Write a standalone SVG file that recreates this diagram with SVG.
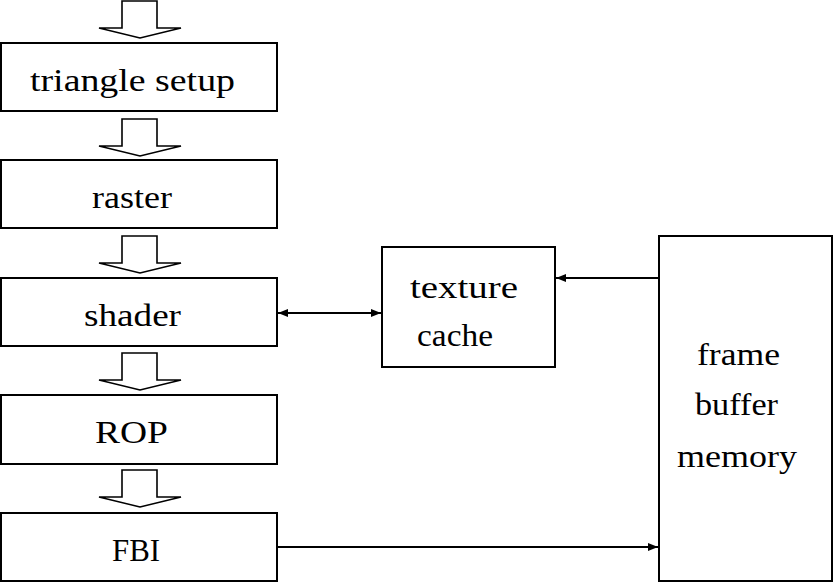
<svg xmlns="http://www.w3.org/2000/svg" width="833" height="583" viewBox="0 0 833 583">
<style>
.box{fill:#fff;stroke:#000;stroke-width:2}
.hollow{fill:#fff;stroke:#000;stroke-width:1.6;stroke-linejoin:miter}
.t{font-family:'Liberation Serif','Times New Roman',serif;font-size:31px;fill:#000}
.c{stroke:#000;stroke-width:2;fill:none}
</style>
<defs>
<marker id="ah" viewBox="0 0 10 8" refX="10" refY="4" markerWidth="10" markerHeight="8" markerUnits="userSpaceOnUse" orient="auto-start-reverse">
<path d="M0,0 L10,4 L0,8 Z" fill="#000"/>
</marker>
</defs>
<rect width="833" height="583" fill="#fff"/>
<g id="flow-arrows">
<path class="hollow" d="M122,1 H157 V28 H181 L140,38 L99,28 H122 Z"/>
<path class="hollow" d="M122,119 H157 V146 H181 L140,156 L99,146 H122 Z"/>
<path class="hollow" d="M122,236 H157 V263 H181 L140,273 L99,263 H122 Z"/>
<path class="hollow" d="M122,353 H157 V380 H181 L140,390 L99,380 H122 Z"/>
<path class="hollow" d="M122,470 H157 V497 H181 L140,507 L99,497 H122 Z"/>
</g>
<g id="triangle-setup">
<rect class="box" x="1" y="43" width="276" height="68"/>
<text class="t" x="30" y="91" textLength="205" lengthAdjust="spacingAndGlyphs">triangle setup</text>
</g>
<g id="raster">
<rect class="box" x="1" y="160" width="276" height="68"/>
<text class="t" x="92" y="208" textLength="80" lengthAdjust="spacingAndGlyphs">raster</text>
</g>
<g id="shader">
<rect class="box" x="1" y="278" width="276" height="68"/>
<text class="t" x="84" y="326" textLength="97" lengthAdjust="spacingAndGlyphs">shader</text>
</g>
<g id="rop">
<rect class="box" x="1" y="395" width="276" height="69"/>
<text class="t" x="95" y="443" textLength="73" lengthAdjust="spacingAndGlyphs">ROP</text>
</g>
<g id="fbi">
<rect class="box" x="1" y="513" width="276" height="68"/>
<text class="t" x="112" y="561" textLength="48" lengthAdjust="spacingAndGlyphs">FBI</text>
</g>
<g id="texture-cache">
<rect class="box" x="382" y="247" width="173" height="120"/>
<text class="t" x="410" y="298" textLength="108" lengthAdjust="spacingAndGlyphs">texture</text>
<text class="t" x="417" y="346" textLength="76" lengthAdjust="spacingAndGlyphs">cache</text>
</g>
<g id="frame-buffer-memory">
<rect class="box" x="659" y="236" width="173" height="345"/>
<text class="t" x="697" y="365" textLength="83" lengthAdjust="spacingAndGlyphs">frame</text>
<text class="t" x="695" y="415" textLength="83" lengthAdjust="spacingAndGlyphs">buffer</text>
<text class="t" x="677" y="467" textLength="120" lengthAdjust="spacingAndGlyphs">memory</text>
</g>
<g id="connectors">
<line class="c" x1="659" y1="278" x2="556" y2="278" marker-end="url(#ah)"/>
<line class="c" x1="278" y1="313" x2="381" y2="313" marker-start="url(#ah)" marker-end="url(#ah)"/>
<line class="c" x1="277" y1="547" x2="658" y2="547" marker-end="url(#ah)"/>
</g>
</svg>
